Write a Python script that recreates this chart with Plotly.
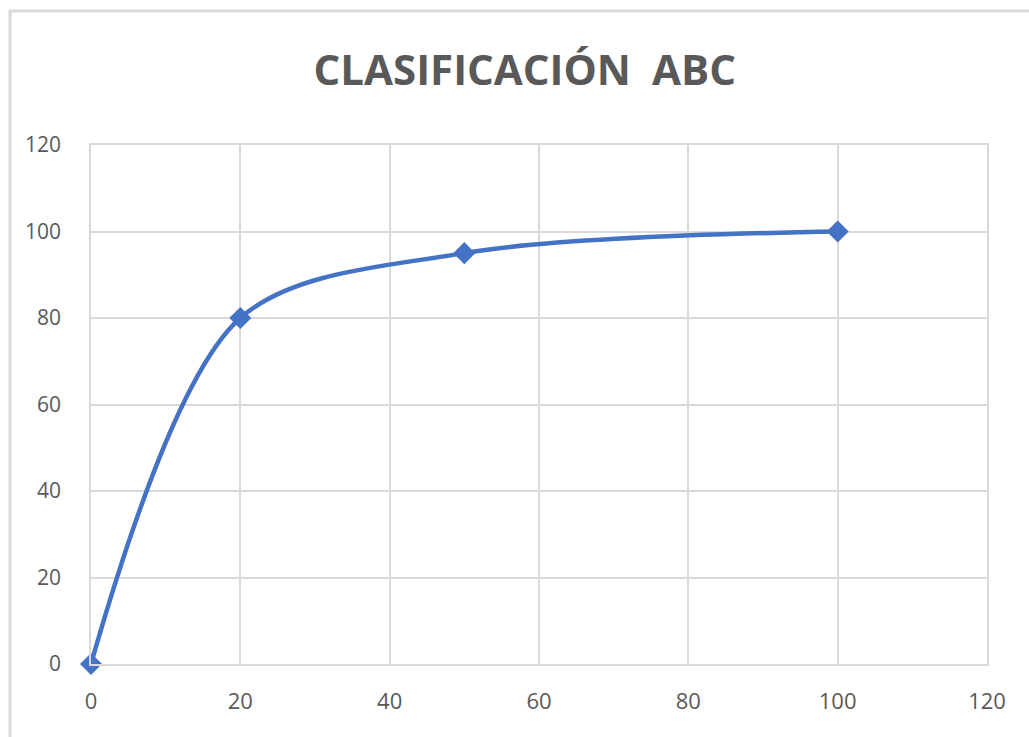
import plotly.graph_objects as go

# Cumulative ABC classification curve
pct_items = [0, 20, 50, 100]
pct_value = [0, 80, 95, 100]
tick_vals = [0, 20, 40, 60, 80, 100, 120]
tick_text = ["0", "20", "40", "60", "80", "100", "120"]

grid_color = "#d9d9d9"
text_color = "#595959"
series_color = "#4472c4"
tick_family = "Open Sans, sans-serif"

fig = go.Figure()
fig.add_trace(go.Scatter(
    x=pct_items,
    y=pct_value,
    mode="lines+markers",
    line=dict(color=series_color, width=4.5, shape="spline", smoothing=0.9),
    marker=dict(symbol="diamond", size=17, color=series_color),
    showlegend=False,
    cliponaxis=False,
))

axis_common = dict(
    range=[0, 120],
    tickvals=tick_vals,
    ticktext=tick_text,
    showgrid=True,
    gridcolor=grid_color,
    gridwidth=1.5,
    zeroline=False,
    showline=True,
    linecolor=grid_color,
    linewidth=1.5,
    mirror=True,
    ticks="",
    fixedrange=True,
)

fig.update_xaxes(**axis_common, ticklabelstandoff=17,
                 tickfont=dict(family=tick_family, size=22, color=text_color))
fig.update_yaxes(**axis_common, ticklabelstandoff=24,
                 tickfont=dict(family=tick_family, size=21, color=text_color))

fig.update_layout(
    width=1029,
    height=737,
    margin=dict(l=91, r=42, t=145, b=73),
    paper_bgcolor="white",
    plot_bgcolor="white",
    title=dict(
        text="CLASIFICACIÓN\u2002ABC",
        x=0.51,
        xanchor="center",
        y=0.905,
        yanchor="middle",
        font=dict(family="Open Sans", size=42, color=text_color, weight="bold"),
    ),
    shapes=[
        dict(
            type="rect", xref="paper", yref="paper",
            x0=(10 - 91) / 896, x1=(1040 - 91) / 896,
            y0=(664 + 80 - 664) / -519, y1=(664 - 11) / 519,
            line=dict(color="#d9d9d9", width=3),
            fillcolor="rgba(0,0,0,0)",
            layer="below",
        )
    ],
)

fig.write_html("out.html")
